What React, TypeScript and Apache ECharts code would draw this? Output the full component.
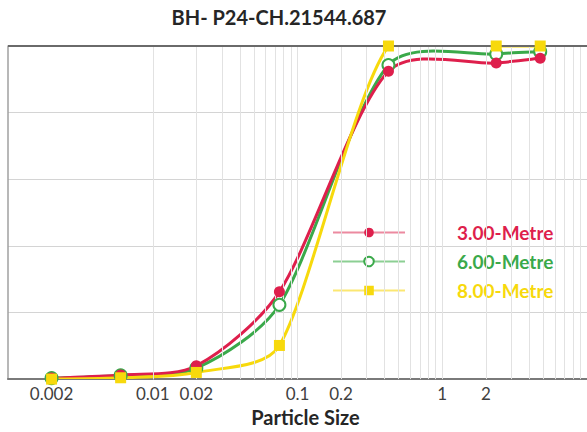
import React, { useEffect, useRef } from "react";
import * as echarts from "echarts";

const particleSizes = [0.002, 0.006, 0.02, 0.075, 0.425, 2.36, 4.75];
const metre3 = [0.3, 1.2, 4.0, 26.2, 92.4, 94.9, 96.3];
const metre6 = [0.3, 1.1, 3.3, 22.3, 94.3, 97.6, 98.3];
const metre8 = [0.0, 0.4, 2.0, 10.1, 100, 100, 100];
const seriesNames = ["3.00-Metre", "6.00-Metre", "8.00-Metre"];
const xTickLabels = [0.002, 0.01, 0.02, 0.1, 0.2, 1, 2];
const xGridValues = [
  0.002, 0.003, 0.004, 0.005, 0.006, 0.007, 0.008, 0.009, 0.01,
  0.02, 0.03, 0.04, 0.05, 0.06, 0.07, 0.08, 0.09, 0.1,
  0.2, 0.3, 0.4, 0.5, 0.6, 0.7, 0.8, 0.9, 1,
  2, 3, 4, 5, 6, 7, 8, 9,
];

const RED = "#de1f4c";
const GREEN = "#3aa94a";
const YELLOW = "#f7d90c";
const RED_LIGHT = "#ec8aa0";
const GREEN_LIGHT = "#8ccf93";
const YELLOW_LIGHT = "#fbe772";
const FONT = "Lato";

const pairs = (ys: number[]) => particleSizes.map((x, i) => [x, ys[i]]);

// Smoothed curve (spreadsheet-style Bezier smoothing), positioned through the
// chart's own axes via api.coord.
const curveRenderer = (ys: number[], color: string) => (params: any, api: any) => {
  const n = particleSizes.length;
  const i = params.dataIndex;
  if (i >= n - 1) return null;
  const cl = (k: number) => Math.max(0, Math.min(n - 1, k));
  const P = (k: number) => api.coord([particleSizes[cl(k)], ys[cl(k)]]);
  const p0 = P(i - 1);
  const p1 = P(i);
  const p2 = P(i + 1);
  const p3 = P(i + 2);
  const d12 = Math.hypot(p2[0] - p1[0], p2[1] - p1[1]);
  const cap = 0.3 * d12;
  const off = (a: number[], b: number[]) => {
    let vx = (b[0] - a[0]) / 6;
    let vy = (b[1] - a[1]) / 6;
    const len = Math.hypot(vx, vy);
    if (len > cap && len > 0) {
      vx = (vx / len) * cap;
      vy = (vy / len) * cap;
    }
    return [vx, vy];
  };
  const o1 = off(p0, p2);
  const o2 = off(p1, p3);
  return {
    type: "bezierCurve",
    shape: {
      x1: p1[0],
      y1: p1[1],
      x2: p2[0],
      y2: p2[1],
      cpx1: p1[0] + o1[0],
      cpy1: p1[1] + o1[1],
      cpx2: p2[0] - o2[0],
      cpy2: p2[1] - o2[1],
    },
    style: { stroke: color, lineWidth: 3, fill: null, lineCap: "round" },
    silent: true,
  };
};

const curveSeries = (name: string, ys: number[], color: string, z: number) => ({
  name,
  type: "custom",
  data: pairs(ys),
  encode: { x: 0, y: 1 },
  clip: true,
  z,
  silent: true,
  renderItem: curveRenderer(ys, color),
});

const markerSeries = (name: string, ys: number[], color: string, z: number, symbol: string, size: number, itemStyle: any) => ({
  name,
  type: "line",
  data: pairs(ys),
  z,
  symbol,
  symbolSize: size,
  lineStyle: { width: 0, color },
  itemStyle,
});

export default function App() {
  const ref = useRef<HTMLDivElement>(null);
  useEffect(() => {
    const chart = echarts.init(ref.current!, null, { renderer: "svg" });
    chart.setOption({
      animation: false,
      backgroundColor: "#ffffff",
      title: {
        text: "BH- P24-CH.21544.687",
        left: 279,
        textAlign: "center",
        top: 7,
        padding: 0,
        textStyle: { fontFamily: FONT, fontWeight: "bold", fontSize: 20, color: "#262626" },
      },
      grid: { left: 8, top: 46, width: 580, height: 336, containLabel: false },
      xAxis: {
        type: "log",
        logBase: 10,
        min: 0.001,
        max: 10,
        name: "Particle Size",
        nameLocation: "middle",
        nameGap: 25,
        nameTextStyle: { fontFamily: FONT, fontWeight: "bold", fontSize: 20, color: "#262626", padding: [0, 0, 0, 16] },
        axisLine: { show: true, lineStyle: { color: "#7a7a7a", width: 2 } },
        axisTick: { show: false },
        splitLine: { show: false },
        axisLabel: {
          customValues: xTickLabels,
          margin: 6,
          fontFamily: FONT,
          fontSize: 17,
          color: "#404040",
          formatter: (v: number) => String(+Number(v).toPrecision(3)),
        },
      },
      yAxis: {
        type: "value",
        min: 0,
        max: 100,
        interval: 20,
        axisLabel: { show: false },
        axisTick: { show: false },
        axisLine: { show: true, lineStyle: { color: "#a0a0a0", width: 1.5 } },
        splitLine: { show: true, lineStyle: { color: "#d4d4d4", width: 1 } },
      },
      legend: {
        orient: "vertical",
        left: 327,
        top: 218,
        itemWidth: 72,
        itemHeight: 12,
        itemGap: 10,
        data: [
          { name: seriesNames[0], textStyle: { color: RED }, lineStyle: { color: RED_LIGHT, width: 2, opacity: 1, type: "solid" } },
          { name: seriesNames[1], textStyle: { color: GREEN }, lineStyle: { color: GREEN_LIGHT, width: 2, opacity: 1, type: "solid" } },
          { name: seriesNames[2], textStyle: { color: YELLOW }, lineStyle: { color: YELLOW_LIGHT, width: 2, opacity: 1, type: "solid" } },
        ],
        textStyle: { fontFamily: FONT, fontWeight: "bold", fontSize: 19, lineHeight: 18, padding: [0, 0, 0, 47] },
      },
      series: [
        {
          name: "grid",
          type: "line",
          data: [],
          silent: true,
          z: 1,
          markLine: {
            silent: true,
            symbol: "none",
            label: { show: false },
            animation: false,
            data: [
              ...xGridValues.map((v) => ({ xAxis: v, lineStyle: { color: "#e2e2e2", width: 1, type: "solid" } })),
              { yAxis: 100, lineStyle: { color: "#6a6a6a", width: 2, type: "solid" } },
            ],
          },
        },
        curveSeries("curve-6", metre6, GREEN, 2),
        curveSeries("curve-3", metre3, RED, 3),
        curveSeries("curve-8", metre8, YELLOW, 4),
        markerSeries(seriesNames[0], metre3, RED, 6, "circle", 11, { color: RED }),
        markerSeries(seriesNames[1], metre6, GREEN, 5, "emptyCircle", 12, { color: GREEN, borderColor: GREEN, borderWidth: 2 }),
        markerSeries(seriesNames[2], metre8, YELLOW, 7, "rect", 11, { color: YELLOW }),
      ],
    });
    return () => chart.dispose();
  }, []);
  return (
    <div
      ref={ref}
      style={{ position: "absolute", left: 0, top: 0, width: 587, height: 432, overflow: "hidden" }}
    />
  );
}
